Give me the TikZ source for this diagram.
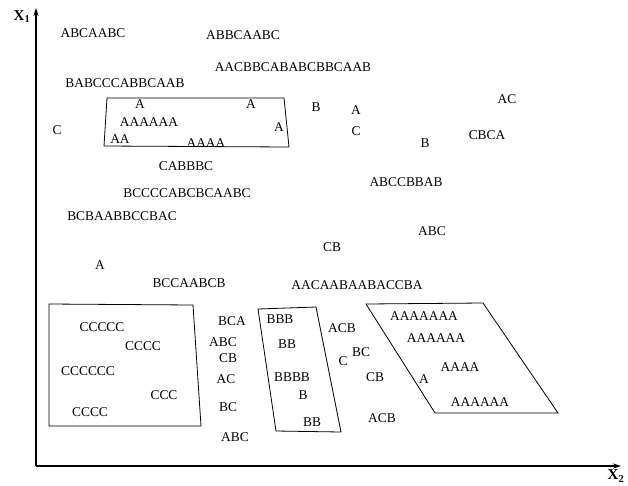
\documentclass[tikz,border=0pt]{standalone}
\usepackage{fontspec}
\setmainfont{Liberation Serif}
\usetikzlibrary{arrows.meta}
\begin{document}
\begin{tikzpicture}[x=1pt,y=-1pt,
  lbl/.style={inner sep=0pt,font=\fontsize{13.4}{15}\selectfont},
  axlbl/.style={inner sep=0pt,font=\fontsize{15}{16}\selectfont\bfseries},
  axis/.style={line width=1.6pt,-{Stealth[length=8pt,width=5pt]}},
  region/.style={line width=0.8pt}]
\useasboundingbox (0,0) rectangle (628,485);
% axes
\coordinate (o) at (36,466);
\coordinate (ytip) at (36,8);
\coordinate (xtip) at (621,466);
\draw[axis] (o) -- (ytip);
\draw[axis] (o) -- (xtip);
\node[axlbl] (x1) at (22,17) {X$_{\mathbf 1}$};
\node[axlbl] (x2) at (616,476) {X$_{\mathbf 2}$};
% regions
\draw[region] (107,98) -- (284,98) -- (289,147) -- (104,146) -- cycle;
\draw[region] (49,304) -- (193,305) -- (201,426) -- (49,426) -- cycle;
\draw[region] (258,309) -- (316,307) -- (341,432) -- (276,431) -- cycle;
\draw[region] (366,304) -- (483,303) -- (558,413) -- (435,413) -- cycle;
% labels top
\node[lbl] (t1) at (93,33) {ABCAABC};
\node[lbl] (t2) at (243,35) {ABBCAABC};
\node[lbl] (t3) at (293,67) {AACBBCABABCBBCAAB};
\node[lbl] (t4) at (125,83) {BABCCCABBCAAB};
\node[lbl] (t5) at (140,104) {A};
\node[lbl] (t6) at (251,104) {A};
\node[lbl] (t7) at (149,122) {AAAAAA};
\node[lbl] (t8) at (279,127) {A};
\node[lbl] (t9) at (120,139) {AA};
\node[lbl] (t10) at (206,143) {AAAA};
\node[lbl] (t11) at (57,130) {C};
\node[lbl] (t12) at (316,107) {B};
\node[lbl] (t13) at (356,110) {A};
\node[lbl] (t14) at (356,131) {C};
\node[lbl] (t15) at (425,143) {B};
\node[lbl] (t16) at (507,99) {AC};
\node[lbl] (t17) at (487,135) {CBCA};
% middle
\node[lbl] (t18) at (186,166) {CABBBC};
\node[lbl] (t19) at (187,193) {BCCCCABCBCAABC};
\node[lbl] (t20) at (122,216) {BCBAABBCCBAC};
\node[lbl] (t21) at (100,265) {A};
\node[lbl] (t22) at (189,283) {BCCAABCB};
\node[lbl] (t23) at (357,285) {AACAABAABACCBA};
\node[lbl] (t24) at (406,182) {ABCCBBAB};
\node[lbl] (t25) at (432,231) {ABC};
\node[lbl] (t26) at (332,247) {CB};
% left box
\node[lbl] (c1) at (102,327) {CCCCC};
\node[lbl] (c2) at (143,346) {CCCC};
\node[lbl] (c3) at (88,371) {CCCCCC};
\node[lbl] (c4) at (164,395) {CCC};
\node[lbl] (c5) at (90,412) {CCCC};
% column between
\node[lbl] (m1) at (232,321) {BCA};
\node[lbl] (m2) at (223,342) {ABC};
\node[lbl] (m3) at (228,358) {CB};
\node[lbl] (m4) at (226,379) {AC};
\node[lbl] (m5) at (228,407) {BC};
\node[lbl] (m6) at (235,437) {ABC};
% middle box
\node[lbl] (b1) at (280,319) {BBB};
\node[lbl] (b2) at (287,344) {BB};
\node[lbl] (b3) at (292,377) {BBBB};
\node[lbl] (b4) at (303,395) {B};
\node[lbl] (b5) at (312,422) {BB};
% right column
\node[lbl] (r1) at (342,328) {ACB};
\node[lbl] (r2) at (343,361) {C};
\node[lbl] (r3) at (361,352) {BC};
\node[lbl] (r4) at (375,377) {CB};
\node[lbl] (r5) at (382,418) {ACB};
% right box
\node[lbl] (a1) at (424,316) {AAAAAAA};
\node[lbl] (a2) at (436,338) {AAAAAA};
\node[lbl] (a3) at (460,367) {AAAA};
\node[lbl] (a4) at (424,379) {A};
\node[lbl] (a5) at (480,402) {AAAAAA};
\end{tikzpicture}
\end{document}
